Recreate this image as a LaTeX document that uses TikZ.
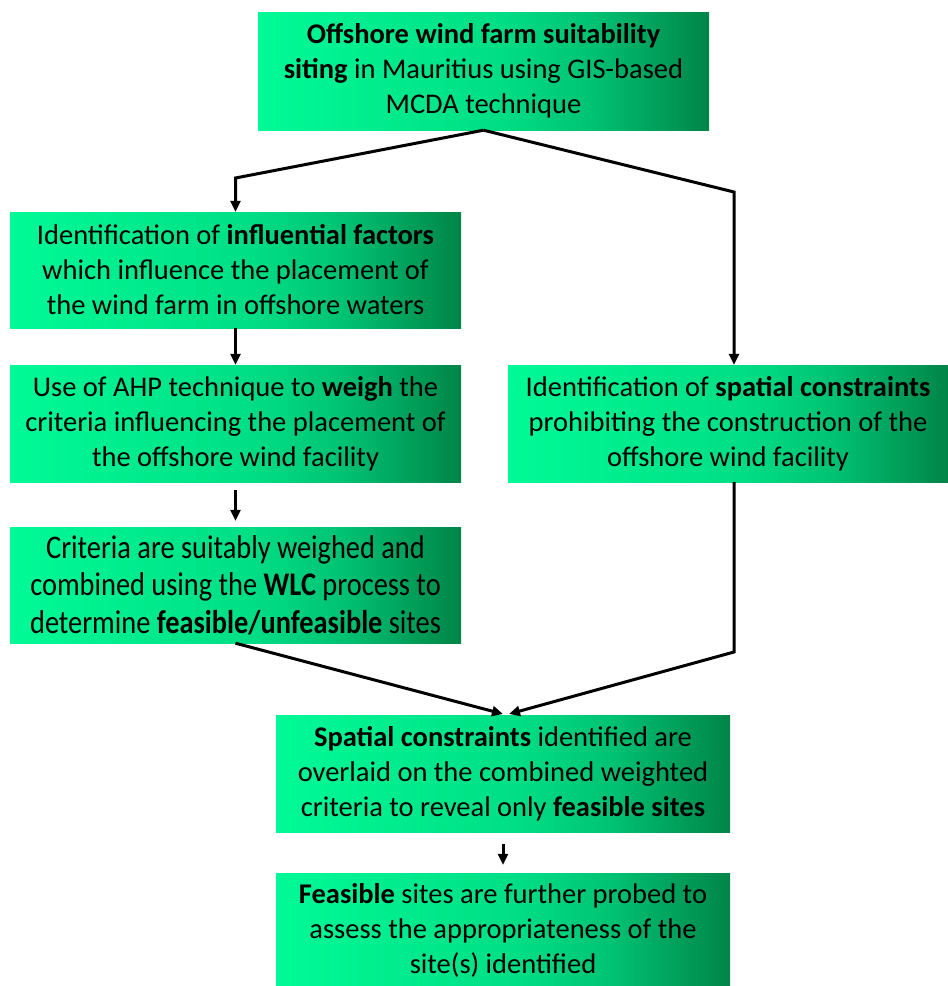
\documentclass[tikz,border=0pt]{standalone}
\usepackage{fontspec}
\setmainfont{Carlito}
\newfontfamily\condfont{Carlito}[FakeStretch=0.86]
\usetikzlibrary{arrows.meta}
\pgfdeclarehorizontalshading{gshade}{100bp}{rgb(0bp)=(0,0.98,0.59); rgb(25bp)=(0,0.98,0.59); rgb(52bp)=(0,0.87,0.52); rgb(62bp)=(0,0.76,0.45); rgb(75bp)=(0,0.52,0.28); rgb(100bp)=(0,0.52,0.28)}
\tikzset{
  box/.style={draw=none, shading=gshade, shading angle=0,
    align=center, inner sep=0pt, font=\fontsize{28.5}{35}\selectfont, text=black},
  conn/.style={line width=3pt, -{Triangle[length=11pt,width=10pt]}},
}
\begin{document}
\begin{tikzpicture}[x=1pt,y=-1pt]
\useasboundingbox (0,0) rectangle (948,986);
\node[box, minimum width=451pt, minimum height=118pt] (top) at (483.5,71)
  {\textbf{Offshore wind farm suitability}\\\textbf{siting} in Mauritius using GIS-based\\MCDA technique};
\node[box, minimum width=451pt, minimum height=116pt] (f1) at (235.5,270)
  {Identification of \textbf{influential factors}\\which influence the placement of\\the wind farm in offshore waters};
\node[box, minimum width=451pt, minimum height=117pt] (f2) at (235.5,423.5)
  {Use of AHP technique to \textbf{weigh} the\\criteria influencing the placement of\\the offshore wind facility};
\node[box, minimum width=451pt, minimum height=116pt, font=\fontsize{33}{37.5}\condfont] (f3) at (235.5,585)
  {Criteria are suitably weighed and\\combined using the \textbf{WLC} process to\\determine \textbf{feasible/unfeasible} sites};
\node[box, minimum width=440pt, minimum height=117pt] (sc) at (728,423.5)
  {Identification of \textbf{spatial constraints}\\prohibiting the construction of the\\offshore wind facility};
\node[box, minimum width=454pt, minimum height=117pt] (ov) at (503,773.5)
  {\textbf{Spatial constraints} identified are\\overlaid on the combined weighted\\criteria to reveal only \textbf{feasible sites}};
\node[box, minimum width=454pt, minimum height=114pt] (fs) at (503,930)
  {\textbf{Feasible} sites are further probed to\\assess the appropriateness of the\\site(s) identified};
\coordinate (kl) at (235.5,178);
\coordinate (kr) at (734,192);
\coordinate (kd) at (734,652);
\coordinate (tip) at (503,714);
\draw[conn] (top.south) -- (kl) -- (f1.north);
\draw[conn] (top.south) -- (kr) -- (kr |- sc.north);
\draw[conn] (f1.south) -- (f2.north);
\draw[conn, shorten <=8pt, shorten >=6pt] (f2.south) -- (f3.north);
\draw[conn] (f3.south) -- (tip);
\draw[conn] (kr |- sc.south) -- (kd) -- ([xshift=6pt]tip);
\draw[conn, shorten <=12pt, shorten >=8pt] (ov.south) -- (fs.north);
\end{tikzpicture}
\end{document}
